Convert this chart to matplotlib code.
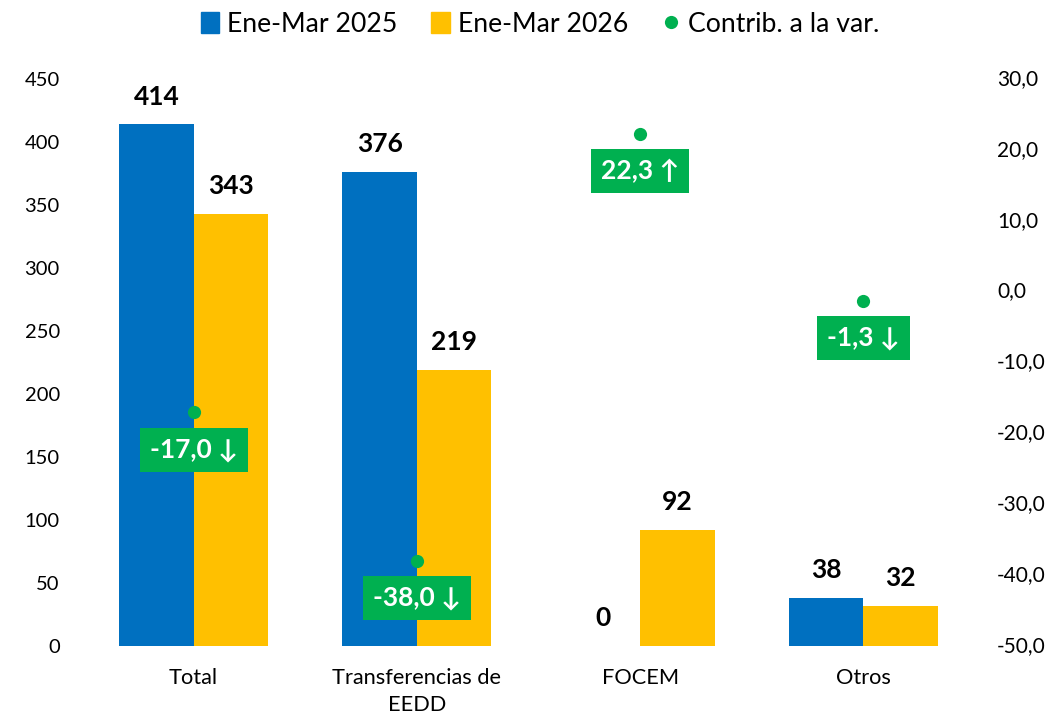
import matplotlib
matplotlib.use("Agg")
import matplotlib.pyplot as plt
from matplotlib.lines import Line2D
from matplotlib.patches import Patch
from matplotlib.transforms import ScaledTranslation
import numpy as np

plt.rcParams['font.family'] = ['Lato', 'DejaVu Sans']

categories = ["Total", "Transferencias de\nEEDD", "FOCEM", "Otros"]
values_2025 = [414, 376, 0, 38]
values_2026 = [343, 219, 92, 32]
contrib = [-17.0, -38.0, 22.3, -1.3]
contrib_labels = ["-17,0 ↓", "-38,0 ↓", "22,3 ↑", "-1,3 ↓"]
left_ticks = [0, 50, 100, 150, 200, 250, 300, 350, 400, 450]
right_ticks = [-50, -40, -30, -20, -10, 0, 10, 20, 30]

BLUE = "#0070C0"
YELLOW = "#FFC000"
GREEN = "#00B050"

fig = plt.figure(figsize=(10.53, 7.14), dpi=100)
ax = fig.add_axes([82 / 1053, 1 - 646 / 714, (975 - 82) / 1053, (646 - 79) / 714])
ax2 = ax.twinx()

x = np.arange(len(categories))
w = 1 / 3
ax.bar(x - w / 2, values_2025, w, color=BLUE)
ax.bar(x + w / 2, values_2026, w, color=YELLOW)

for i in x:
    ax.annotate(str(values_2025[i]), (i - w / 2, values_2025[i]), xytext=(0, 20),
                textcoords="offset points", ha="center", va="center",
                fontsize=19, fontweight="bold")
    ax.annotate(str(values_2026[i]), (i + w / 2, values_2026[i]), xytext=(0, 20),
                textcoords="offset points", ha="center", va="center",
                fontsize=19, fontweight="bold")

ax2.plot(x, contrib, "o", color=GREEN, ms=9.5, mew=0, zorder=5)
for i in x:
    ax2.annotate(contrib_labels[i], (i, contrib[i]), xytext=(0, -27),
                 textcoords="offset points", ha="center", va="center",
                 fontsize=19, fontweight="bold", color="white",
                 bbox=dict(boxstyle="square,pad=0.38", fc=GREEN, ec="none"), zorder=6)

ax.set_xlim(-0.5, 3.5)
ax.set_ylim(0, 450)
ax.set_yticks(left_ticks)
ax.set_xticks(x)
ax.set_xticklabels(categories, fontsize=15.7, linespacing=1.4)
ax2.set_ylim(-50, 30)
ax2.set_yticks(right_ticks)
ax2.set_yticklabels([f"{t},0" for t in right_ticks])
ax.tick_params(axis="y", length=0, labelsize=14.5, pad=16)
ax.tick_params(axis="x", length=0, pad=16)
ax2.tick_params(axis="y", length=0, labelsize=15, pad=16)
# right labels sit a bit high in the original
for lab in ax2.get_yticklabels():
    lab.set_transform(lab.get_transform() + ScaledTranslation(0, 1.5 / 72, fig.dpi_scale_trans))
for a in (ax, ax2):
    for s in a.spines.values():
        s.set_visible(False)

handles = [Patch(color=BLUE, label="Ene-Mar 2025"),
           Patch(color=YELLOW, label="Ene-Mar 2026"),
           Line2D([], [], marker="o", ls="", color=GREEN, ms=9.5, mew=0, label="Contrib. a la var.")]
fig.legend(handles=handles, loc="upper center", bbox_to_anchor=(0.513, 1.017), ncol=3,
           frameon=False, fontsize=19.2, handlelength=0.7, handleheight=0.8, handletextpad=0.3, columnspacing=1.26)

fig.savefig("out.png", dpi=100)
